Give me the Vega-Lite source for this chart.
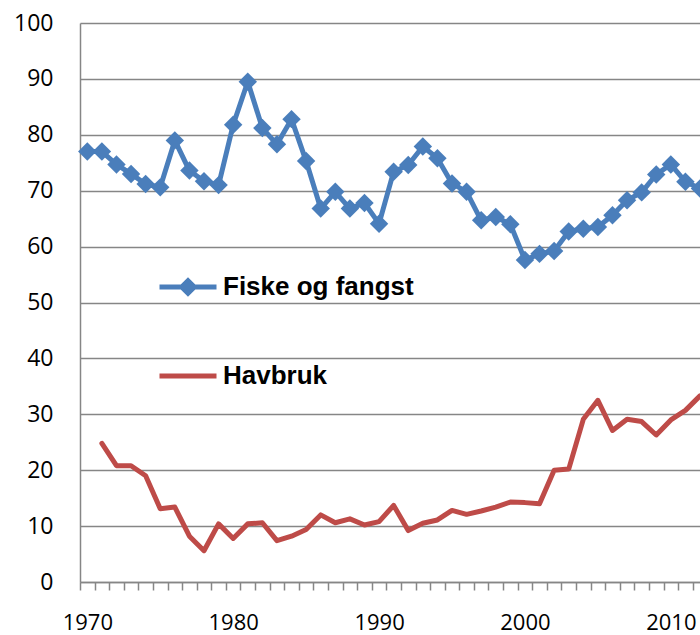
{
  "$schema": "https://vega.github.io/schema/vega-lite/v6.json",
  "width": 620,
  "height": 559,
  "autosize": {"type": "none"},
  "padding": {"left": 80, "top": 23, "right": 0, "bottom": 53},
  "background": "white",
  "config": {
    "view": {"stroke": null},
    "axis": {"labelFont": "Open Sans", "labelFontSize": 23, "labelColor": "#000000"}
  },
  "data": {
    "values": [
      {"year": 1970, "series": "Fiske og fangst", "value": 77.0},
      {"year": 1971, "series": "Fiske og fangst", "value": 77.0},
      {"year": 1972, "series": "Fiske og fangst", "value": 74.7},
      {"year": 1973, "series": "Fiske og fangst", "value": 73.0},
      {"year": 1974, "series": "Fiske og fangst", "value": 71.2},
      {"year": 1975, "series": "Fiske og fangst", "value": 70.6},
      {"year": 1976, "series": "Fiske og fangst", "value": 79.0},
      {"year": 1977, "series": "Fiske og fangst", "value": 73.6},
      {"year": 1978, "series": "Fiske og fangst", "value": 71.7},
      {"year": 1979, "series": "Fiske og fangst", "value": 71.0},
      {"year": 1980, "series": "Fiske og fangst", "value": 81.8},
      {"year": 1981, "series": "Fiske og fangst", "value": 89.5},
      {"year": 1982, "series": "Fiske og fangst", "value": 81.2},
      {"year": 1983, "series": "Fiske og fangst", "value": 78.3},
      {"year": 1984, "series": "Fiske og fangst", "value": 82.8},
      {"year": 1985, "series": "Fiske og fangst", "value": 75.3},
      {"year": 1986, "series": "Fiske og fangst", "value": 66.8},
      {"year": 1987, "series": "Fiske og fangst", "value": 69.8},
      {"year": 1988, "series": "Fiske og fangst", "value": 66.8},
      {"year": 1989, "series": "Fiske og fangst", "value": 67.8},
      {"year": 1990, "series": "Fiske og fangst", "value": 64.1},
      {"year": 1991, "series": "Fiske og fangst", "value": 73.4},
      {"year": 1992, "series": "Fiske og fangst", "value": 74.6},
      {"year": 1993, "series": "Fiske og fangst", "value": 77.9},
      {"year": 1994, "series": "Fiske og fangst", "value": 75.8},
      {"year": 1995, "series": "Fiske og fangst", "value": 71.3},
      {"year": 1996, "series": "Fiske og fangst", "value": 69.8},
      {"year": 1997, "series": "Fiske og fangst", "value": 64.7},
      {"year": 1998, "series": "Fiske og fangst", "value": 65.3},
      {"year": 1999, "series": "Fiske og fangst", "value": 64.0},
      {"year": 2000, "series": "Fiske og fangst", "value": 57.6},
      {"year": 2001, "series": "Fiske og fangst", "value": 58.7},
      {"year": 2002, "series": "Fiske og fangst", "value": 59.2},
      {"year": 2003, "series": "Fiske og fangst", "value": 62.7},
      {"year": 2004, "series": "Fiske og fangst", "value": 63.2},
      {"year": 2005, "series": "Fiske og fangst", "value": 63.5},
      {"year": 2006, "series": "Fiske og fangst", "value": 65.6},
      {"year": 2007, "series": "Fiske og fangst", "value": 68.3},
      {"year": 2008, "series": "Fiske og fangst", "value": 69.7},
      {"year": 2009, "series": "Fiske og fangst", "value": 72.9},
      {"year": 2010, "series": "Fiske og fangst", "value": 74.7},
      {"year": 2011, "series": "Fiske og fangst", "value": 71.6},
      {"year": 2012, "series": "Fiske og fangst", "value": 70.4},
      {"year": 1971, "series": "Havbruk", "value": 24.8},
      {"year": 1972, "series": "Havbruk", "value": 20.8},
      {"year": 1973, "series": "Havbruk", "value": 20.8},
      {"year": 1974, "series": "Havbruk", "value": 19.0},
      {"year": 1975, "series": "Havbruk", "value": 13.1},
      {"year": 1976, "series": "Havbruk", "value": 13.4},
      {"year": 1977, "series": "Havbruk", "value": 8.2},
      {"year": 1978, "series": "Havbruk", "value": 5.6},
      {"year": 1979, "series": "Havbruk", "value": 10.4},
      {"year": 1980, "series": "Havbruk", "value": 7.8},
      {"year": 1981, "series": "Havbruk", "value": 10.4},
      {"year": 1982, "series": "Havbruk", "value": 10.6},
      {"year": 1983, "series": "Havbruk", "value": 7.4},
      {"year": 1984, "series": "Havbruk", "value": 8.2},
      {"year": 1985, "series": "Havbruk", "value": 9.4},
      {"year": 1986, "series": "Havbruk", "value": 12.0},
      {"year": 1987, "series": "Havbruk", "value": 10.6},
      {"year": 1988, "series": "Havbruk", "value": 11.3},
      {"year": 1989, "series": "Havbruk", "value": 10.2},
      {"year": 1990, "series": "Havbruk", "value": 10.8},
      {"year": 1991, "series": "Havbruk", "value": 13.7},
      {"year": 1992, "series": "Havbruk", "value": 9.2},
      {"year": 1993, "series": "Havbruk", "value": 10.5},
      {"year": 1994, "series": "Havbruk", "value": 11.1},
      {"year": 1995, "series": "Havbruk", "value": 12.8},
      {"year": 1996, "series": "Havbruk", "value": 12.1},
      {"year": 1997, "series": "Havbruk", "value": 12.7},
      {"year": 1998, "series": "Havbruk", "value": 13.4},
      {"year": 1999, "series": "Havbruk", "value": 14.3},
      {"year": 2000, "series": "Havbruk", "value": 14.2},
      {"year": 2001, "series": "Havbruk", "value": 14.0},
      {"year": 2002, "series": "Havbruk", "value": 20.0},
      {"year": 2003, "series": "Havbruk", "value": 20.2},
      {"year": 2004, "series": "Havbruk", "value": 29.1},
      {"year": 2005, "series": "Havbruk", "value": 32.5},
      {"year": 2006, "series": "Havbruk", "value": 27.1},
      {"year": 2007, "series": "Havbruk", "value": 29.1},
      {"year": 2008, "series": "Havbruk", "value": 28.7},
      {"year": 2009, "series": "Havbruk", "value": 26.3},
      {"year": 2010, "series": "Havbruk", "value": 29.0},
      {"year": 2011, "series": "Havbruk", "value": 30.7},
      {"year": 2012, "series": "Havbruk", "value": 33.3}
    ]
  },
  "layer": [
    {
      "transform": [{"filter": "datum.series === 'Havbruk'"}],
      "mark": {"type": "line", "strokeWidth": 5, "strokeJoin": "round", "strokeCap": "round"},
      "encoding": {
        "x": {
          "field": "year", "type": "quantitative",
          "scale": {"domain": [1969.5, 2012], "nice": false, "zero": false},
          "axis": {
            "orient": "bottom", "title": null, "labels": false, "grid": false,
            "values": [1969.5, 1970.5, 1971.5, 1972.5, 1973.5, 1974.5, 1975.5, 1976.5, 1977.5, 1978.5, 1979.5, 1980.5, 1981.5, 1982.5, 1983.5, 1984.5, 1985.5, 1986.5, 1987.5, 1988.5, 1989.5, 1990.5, 1991.5, 1992.5, 1993.5, 1994.5, 1995.5, 1996.5, 1997.5, 1998.5, 1999.5, 2000.5, 2001.5, 2002.5, 2003.5, 2004.5, 2005.5, 2006.5, 2007.5, 2008.5, 2009.5, 2010.5, 2011.5],
            "ticks": true, "tickSize": 8, "tickColor": "#868686", "tickWidth": 1.5,
            "domain": true, "domainColor": "#868686", "domainWidth": 1.5
          }
        },
        "y": {
          "field": "value", "type": "quantitative",
          "scale": {"domain": [0, 100], "nice": false}
        },
        "color": {
          "field": "series", "type": "nominal",
          "scale": {"domain": ["Havbruk"], "range": ["#BE4B48"]},
          "legend": {
            "orient": "none", "legendX": 77, "legendY": 322, "title": null, "padding": 0,
            "symbolType": "M-1,0H1", "symbolSize": 3249, "symbolStrokeWidth": 5,
            "symbolStrokeColor": "#BE4B48",
            "labelFont": "Liberation Sans", "labelFontWeight": "bold", "labelFontSize": 26,
            "labelColor": "#000000", "labelOffset": 4, "labelLimit": 400
          }
        }
      }
    },
    {
      "transform": [{"filter": "datum.series === 'Fiske og fangst'"}],
      "mark": {
        "type": "line", "strokeWidth": 5, "strokeJoin": "round", "strokeCap": "round",
        "point": {"shape": "diamond", "size": 340, "filled": true, "opacity": 1, "color": "#4A7EBB"}
      },
      "encoding": {
        "x": {
          "field": "year", "type": "quantitative",
          "axis": {
            "orient": "bottom", "title": null, "grid": false, "ticks": false, "domain": false,
            "values": [1970, 1980, 1990, 2000, 2010], "format": "d",
            "labelPadding": 30, "labelFontSize": 22, "labelFlush": false
          }
        },
        "y": {
          "field": "value", "type": "quantitative",
          "axis": {
            "title": null, "values": [0, 10, 20, 30, 40, 50, 60, 70, 80, 90, 100],
            "ticks": false, "labelPadding": 27,
            "domain": true, "domainColor": "#868686", "domainWidth": 1.5,
            "grid": true, "gridColor": "#868686", "gridWidth": 1.5
          }
        },
        "color": {
          "field": "series", "type": "nominal",
          "scale": {"domain": ["Fiske og fangst"], "range": ["#4A7EBB"]},
          "legend": {
            "orient": "none", "legendX": 77, "legendY": 233, "title": null, "padding": 0,
            "symbolType": "M-1,0H1M0,-0.22L0.22,0L0,0.22L-0.22,0Z", "symbolSize": 3249,
            "symbolStrokeWidth": 5, "symbolStrokeColor": "#4A7EBB", "symbolFillColor": "#4A7EBB",
            "labelFont": "Liberation Sans", "labelFontWeight": "bold", "labelFontSize": 26,
            "labelColor": "#000000", "labelOffset": 4, "labelLimit": 400
          }
        }
      }
    }
  ],
  "resolve": {"axis": {"x": "independent"}, "scale": {"color": "independent"}, "legend": {"color": "independent"}}
}
